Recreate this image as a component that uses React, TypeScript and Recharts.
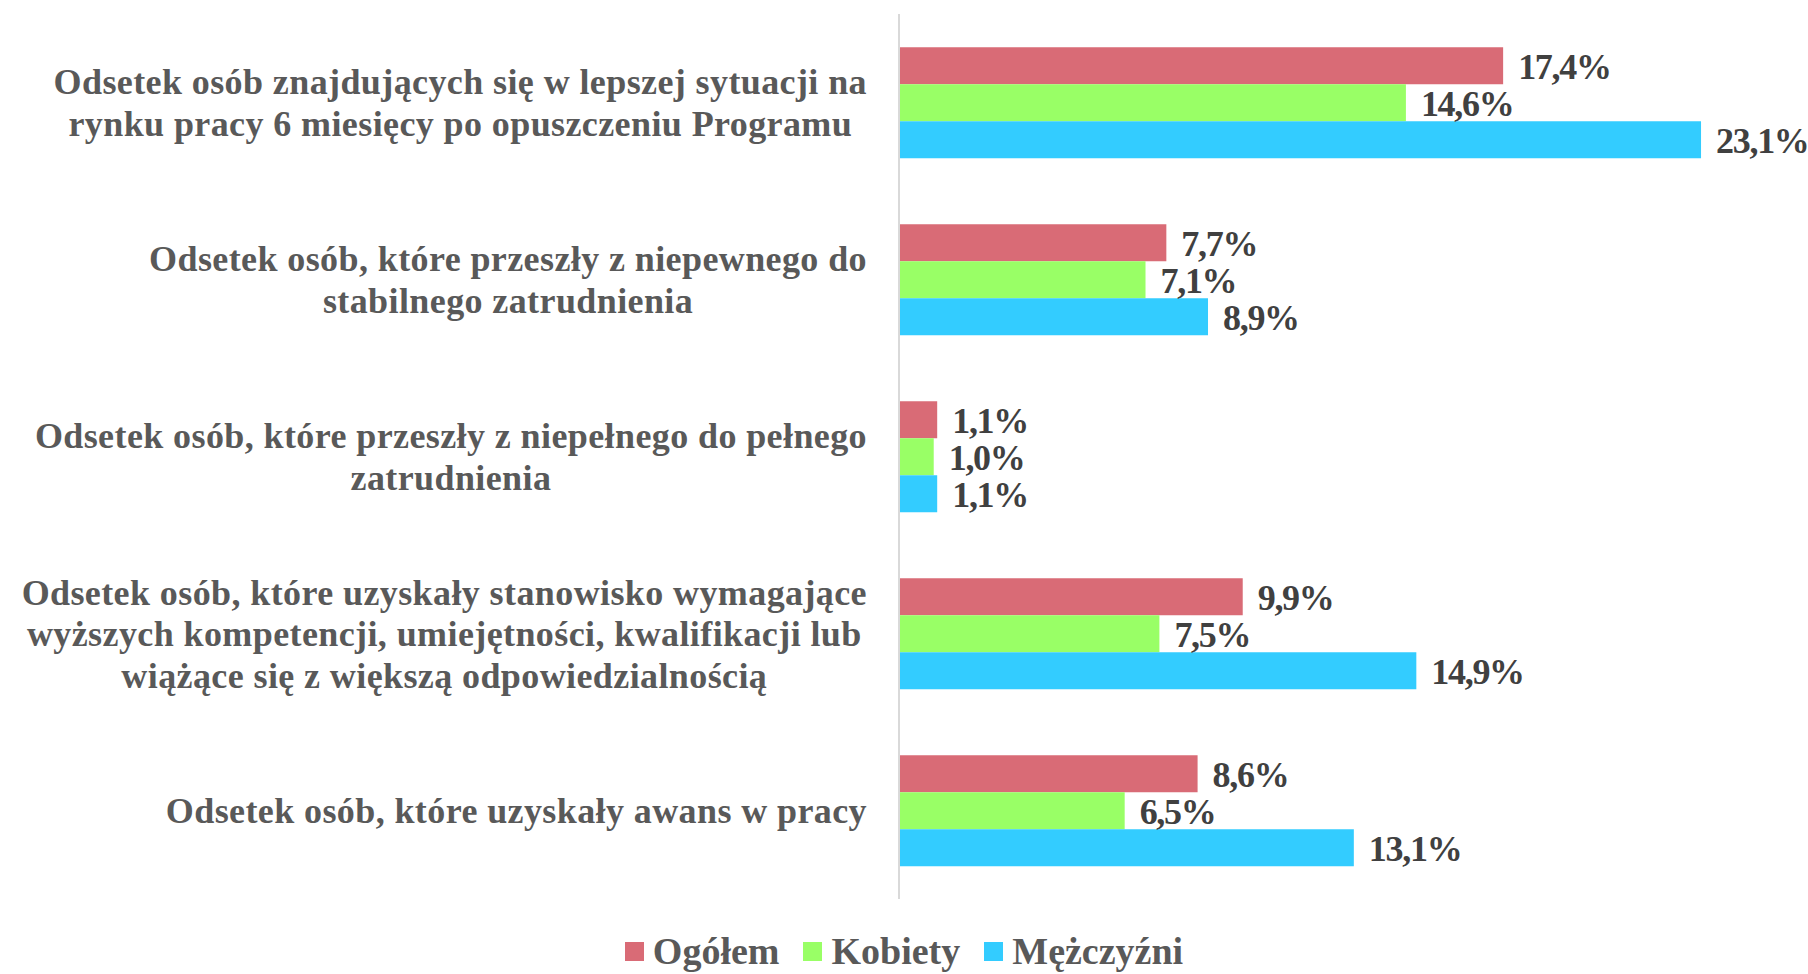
import React from 'react';
import { BarChart, Bar, XAxis, YAxis, Legend, LabelList } from 'recharts';

// Category labels (line breaks as in the original chart)
const categories = [
  'Odsetek osób znajdujących się w lepszej sytuacji na\nrynku pracy 6 miesięcy po opuszczeniu Programu',
  'Odsetek osób, które przeszły z niepewnego do\nstabilnego zatrudnienia',
  'Odsetek osób, które przeszły z niepełnego do pełnego\nzatrudnienia',
  'Odsetek osób, które uzyskały stanowisko wymagające\nwyższych kompetencji, umiejętności, kwalifikacji lub\nwiążące się z większą odpowiedzialnością',
  'Odsetek osób, które uzyskały awans w pracy',
];

const ogolem = [17.4, 7.7, 1.1, 9.9, 8.6];
const kobiety = [14.6, 7.1, 1.0, 7.5, 6.5];
const mezczyzni = [23.1, 8.9, 1.1, 14.9, 13.1];

const series = [
  { key: 'ogolem', name: 'Ogółem', color: '#D96B76' },
  { key: 'kobiety', name: 'Kobiety', color: '#99FF66' },
  { key: 'mezczyzni', name: 'Mężczyźni', color: '#33CCFF' },
];

const chartData = categories.map((label, i) => ({
  label,
  ogolem: ogolem[i],
  kobiety: kobiety[i],
  mezczyzni: mezczyzni[i],
}));

const FONT = "'Liberation Serif', 'DejaVu Serif', serif";
const TICK_FONT_SIZE = 36;
const TICK_SPACING = 0.4;
const LINE_HEIGHT = 41.5;

let canvasCtx: CanvasRenderingContext2D | null = null;
function measure(text: string): number {
  if (!canvasCtx) {
    const c = document.createElement('canvas');
    canvasCtx = c.getContext('2d');
  }
  if (!canvasCtx) return text.length * 18;
  canvasCtx.font = `bold ${TICK_FONT_SIZE}px ${FONT}`;
  return canvasCtx.measureText(text).width + text.length * TICK_SPACING;
}

// Multi-line label: block right-aligned to the axis, lines centered within it
const CategoryTick = ({ x, y, payload }: any) => {
  const lines: string[] = String(payload.value).split('\n');
  const maxW = Math.max(...lines.map(measure));
  const cx = x - maxW / 2;
  const startY = y - ((lines.length - 1) * LINE_HEIGHT) / 2;
  return (
    <text
      textAnchor="middle"
      fill="#595959"
      fontFamily={FONT}
      fontWeight="bold"
      fontSize={TICK_FONT_SIZE}
      letterSpacing={TICK_SPACING}
    >
      {lines.map((line, i) => (
        <tspan key={i} x={cx} y={startY + i * LINE_HEIGHT} dy="0.35em">
          {line}
        </tspan>
      ))}
    </text>
  );
};

const formatPct = (v: any) => Number(v).toFixed(1).replace('.', ',') + '%';

const LegendContent = () => (
  <div
    style={{
      display: 'flex',
      justifyContent: 'center',
      alignItems: 'center',
      gap: 24,
      fontFamily: FONT,
      fontWeight: 'bold',
      fontSize: 38,
      lineHeight: '40px',
      color: '#595959',
    }}
  >
    {series.map(s => (
      <span key={s.key} style={{ display: 'flex', alignItems: 'center' }}>
        <span
          style={{
            width: 19,
            height: 19,
            background: s.color,
            marginRight: 9,
            display: 'inline-block',
          }}
        />
        {s.name}
      </span>
    ))}
  </div>
);

export default function App(): React.ReactElement {
  return (
    <div style={{ width: 1808, height: 974, background: '#fff' }}>
      <style>{`body{margin:0}`}</style>
      <BarChart
        width={1808}
        height={974}
        data={chartData}
        layout="vertical"
        margin={{ top: 14, right: 41, left: 0, bottom: 75 }}
        barCategoryGap="18.8%"
        barGap={0}
      >
        <XAxis type="number" domain={[0, 25]} hide />
        <YAxis
          type="category"
          dataKey="label"
          width={899}
          axisLine={{ stroke: '#D9D9D9', strokeWidth: 2 }}
          tickLine={false}
          tickSize={0}
          tickMargin={32}
          tick={<CategoryTick />}
          interval={0}
        />
        <Legend
          verticalAlign="middle"
          align="center"
          layout="horizontal"
          wrapperStyle={{ top: 931, left: 0, width: 1808 }}
          content={<LegendContent />}
        />
        {series.map(s => (
          <Bar
            key={s.key}
            dataKey={s.key}
            name={s.name}
            fill={s.color}
            isAnimationActive={false}
          >
            <LabelList
              dataKey={s.key}
              position="right"
              offset={15}
              formatter={formatPct}
              fill="#404040"
              fontFamily={FONT}
              fontWeight="bold"
              fontSize={36}
              letterSpacing={-1.3}
            />
          </Bar>
        ))}
      </BarChart>
    </div>
  );
}
